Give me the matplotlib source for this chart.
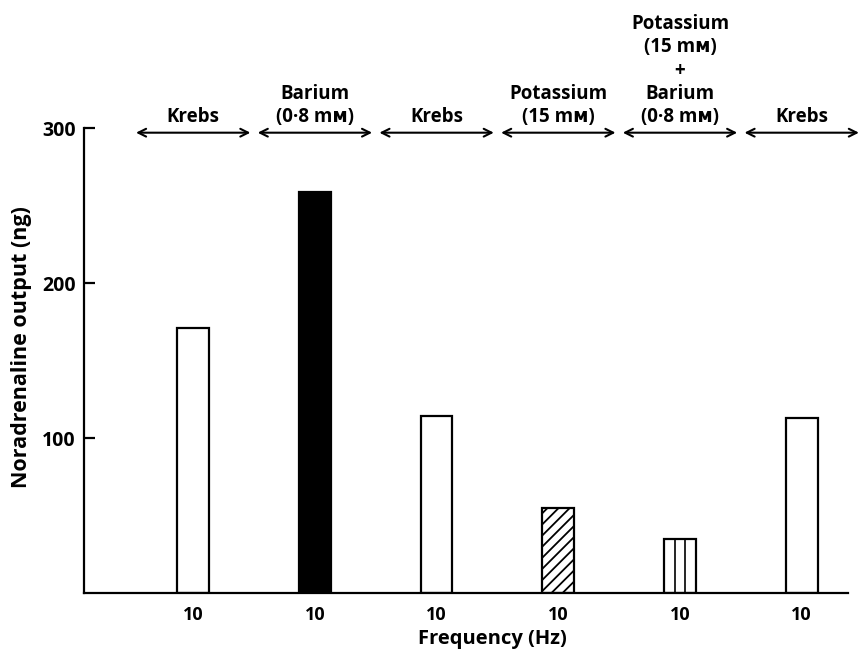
import matplotlib
matplotlib.use('Agg')
import matplotlib.pyplot as plt

# data
conditions = ['Krebs', 'Barium\n(0·8 mᴍ)', 'Krebs', 'Potassium\n(15 mᴍ)',
              'Potassium\n(15 mᴍ)\n+\nBarium\n(0·8 mᴍ)', 'Krebs']
frequency = ['10', '10', '10', '10', '10', '10']
output_ng = [171, 259, 114, 55, 35, 113]

# bar styles
fills = ['white', 'black', 'white', 'white', 'white', 'white']
hatches = ['', '', '', '///', '', '']
striped = [False, False, False, False, True, False]

plt.rcParams['font.family'] = ['Open Sans', 'DejaVu Sans']
plt.rcParams['hatch.linewidth'] = 1.3

fig = plt.figure(figsize=(8.6, 6.6), dpi=100)
ax = fig.add_axes([0.098, 0.1015, 0.888, 0.7045])

w = 0.26
pos = list(range(len(output_ng)))
for i in pos:
    ax.bar(i, output_ng[i], width=w, color=fills[i], edgecolor='black',
           linewidth=1.6, hatch=hatches[i], zorder=2)
    if striped[i]:
        # two vertical stripes dividing the bar in thirds
        ax.vlines([i - w / 6, i + w / 6], 0, output_ng[i], color='black',
                  linewidth=1.2, zorder=3)

# condition arrows along the top
for i, lab in enumerate(conditions):
    ax.annotate('', xy=(i - 0.47, 297), xytext=(i + 0.47, 297),
                arrowprops=dict(arrowstyle='<->', lw=1.5, color='black',
                                mutation_scale=14, shrinkA=0, shrinkB=0),
                annotation_clip=False)
    ax.annotate(lab, xy=(i, 297), xytext=(0, 4), textcoords='offset points',
                ha='center', va='bottom', fontsize=13.5, fontweight='bold',
                linespacing=1.22, annotation_clip=False)

ax.set_xlim(-0.895, 5.38)
ax.set_ylim(0, 300)
ax.set_yticks([100, 200, 300])
ax.set_xticks(pos)
ax.set_xticklabels(frequency, fontsize=13, fontweight='bold')
ax.tick_params(axis='y', direction='in', length=8, width=1.6, labelsize=14, pad=6)
ax.tick_params(axis='x', length=0, pad=9)
for t in ax.get_yticklabels():
    t.set_fontweight('bold')

ax.spines['top'].set_visible(False)
ax.spines['right'].set_visible(False)
ax.spines['left'].set_linewidth(1.6)
ax.spines['bottom'].set_linewidth(1.6)

ax.set_xlabel('Frequency (Hz)', fontsize=14.5, fontweight='bold')
ax.xaxis.set_label_coords(0.535, -0.078)
ax.set_ylabel('Noradrenaline output (ng)', fontsize=15.5, fontweight='bold')
ax.yaxis.set_label_coords(-0.069, 0.53)

fig.savefig('out.png', dpi=100)
